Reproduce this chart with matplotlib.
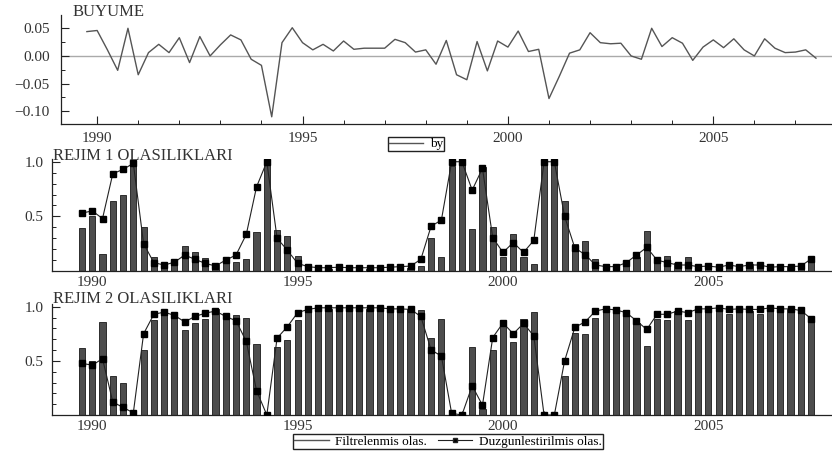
import numpy as np
import pandas as pd
import matplotlib
matplotlib.use("Agg")
import matplotlib.pyplot as plt
from matplotlib.lines import Line2D
from matplotlib.ticker import MultipleLocator, FixedLocator, FuncFormatter

# quarterly sample 1989Q4 - 2007Q3
quarters = pd.period_range("1989Q4", "2007Q3", freq="Q")
t = np.asarray(quarters.year + (quarters.quarter - 1) / 4.0)

by = [0.044, 0.046, 0.011, -0.026, 0.050, -0.034, 0.006, 0.021, 0.006, 0.033,
      -0.012, 0.035, 0.000, 0.020, 0.038, 0.029, -0.006, -0.017, -0.110, 0.024,
      0.051, 0.024, 0.011, 0.021, 0.009, 0.027, 0.012, 0.014, 0.014, 0.014,
      0.030, 0.024, 0.007, 0.011, -0.015, 0.028, -0.034, -0.043, 0.026, -0.027,
      0.027, 0.016, 0.045, 0.008, 0.012, -0.077, -0.037, 0.005, 0.011, 0.042,
      0.024, 0.022, 0.023, 0.000, -0.006, 0.050, 0.017, 0.033, 0.023, -0.008,
      0.016, 0.029, 0.015, 0.031, 0.011, 0.000, 0.031, 0.014, 0.006, 0.007,
      0.011, -0.004]

# rejim 1: filtrelenmis / duzgunlestirilmis
f1 = [0.39, 0.50, 0.155, 0.64, 0.70, 0.99, 0.405, 0.125, 0.076, 0.10,
      0.23, 0.17, 0.12, 0.064, 0.116, 0.085, 0.11, 0.354, 1.0, 0.375,
      0.32, 0.137, 0.025, 0.02, 0.02, 0.025, 0.02, 0.02, 0.02, 0.02,
      0.025, 0.025, 0.03, 0.05, 0.30, 0.125, 0.96, 1.0, 0.38, 0.95,
      0.405, 0.125, 0.34, 0.125, 0.06, 1.0, 1.0, 0.64, 0.25, 0.27,
      0.11, 0.055, 0.05, 0.07, 0.13, 0.37, 0.12, 0.137, 0.07, 0.125,
      0.055, 0.055, 0.04, 0.076, 0.05, 0.064, 0.076, 0.04, 0.045, 0.045,
      0.045, 0.11]
s1 = [0.53, 0.55, 0.48, 0.89, 0.93, 0.985, 0.25, 0.076, 0.055, 0.08,
      0.146, 0.107, 0.07, 0.046, 0.10, 0.146, 0.335, 0.77, 1.0, 0.30,
      0.19, 0.07, 0.04, 0.03, 0.03, 0.035, 0.03, 0.03, 0.03, 0.03,
      0.035, 0.04, 0.045, 0.107, 0.41, 0.466, 1.0, 1.0, 0.74, 0.94,
      0.305, 0.17, 0.26, 0.17, 0.28, 1.0, 1.0, 0.50, 0.21, 0.15,
      0.055, 0.04, 0.04, 0.076, 0.146, 0.216, 0.10, 0.076, 0.055, 0.055,
      0.04, 0.045, 0.035, 0.055, 0.04, 0.055, 0.055, 0.035, 0.04, 0.04,
      0.045, 0.11]

# rejim 2
f2 = [0.62, 0.50, 0.855, 0.36, 0.30, 0.015, 0.60, 0.877, 0.97, 0.94,
      0.785, 0.846, 0.89, 0.98, 0.93, 0.92, 0.90, 0.655, 0.0, 0.63,
      0.69, 0.877, 0.985, 0.975, 0.98, 0.98, 0.975, 0.98, 0.98, 0.98,
      0.975, 0.985, 0.98, 0.97, 0.715, 0.89, 0.03, 0.0, 0.63, 0.055,
      0.60, 0.846, 0.67, 0.886, 0.95, 0.0, 0.0, 0.36, 0.76, 0.745,
      0.90, 0.985, 0.98, 0.963, 0.846, 0.64, 0.89, 0.877, 0.963, 0.88,
      0.98, 0.98, 0.99, 0.93, 0.98, 0.96, 0.93, 0.99, 0.985, 0.98,
      0.98, 0.90]
s2 = [0.477, 0.46, 0.52, 0.12, 0.07, 0.02, 0.75, 0.93, 0.95, 0.92,
      0.86, 0.91, 0.94, 0.96, 0.91, 0.87, 0.68, 0.225, 0.0, 0.71,
      0.815, 0.945, 0.975, 0.99, 0.99, 0.99, 0.99, 0.99, 0.99, 0.99,
      0.98, 0.98, 0.975, 0.91, 0.60, 0.545, 0.015, 0.0, 0.27, 0.09,
      0.715, 0.85, 0.75, 0.846, 0.73, 0.0, 0.0, 0.50, 0.81, 0.86,
      0.96, 0.98, 0.97, 0.945, 0.87, 0.79, 0.93, 0.93, 0.96, 0.945,
      0.98, 0.98, 0.99, 0.975, 0.98, 0.975, 0.975, 0.99, 0.98, 0.98,
      0.965, 0.89]

year_ticks = [1990, 1995, 2000, 2005]
txt = "#333333"

plt.rcParams['font.family'] = ['Liberation Serif', 'DejaVu Serif']
plt.rcParams['axes.unicode_minus'] = True

W, H = 832, 455
fig = plt.figure(figsize=(W / 100, H / 100), dpi=100)


def box(l, t_, r, b):
    return [l / W, 1 - b / H, (r - l) / W, (b - t_) / H]


def style(ax, xpad):
    for s in ["top", "right"]:
        ax.spines[s].set_visible(False)
    for s in ["left", "bottom"]:
        ax.spines[s].set_linewidth(0.9)
        ax.spines[s].set_color("#222222")
    ax.xaxis.set_major_locator(FixedLocator(year_ticks))
    ax.xaxis.set_minor_locator(MultipleLocator(1))
    ax.tick_params(which="both", direction="in", colors="#222222",
                   labelcolor=txt, labelsize=11)
    ax.tick_params(which="major", length=6, width=0.8)
    ax.tick_params(which="minor", length=3, width=0.7)
    ax.tick_params(axis="x", pad=xpad)
    ax.patch.set_alpha(0)


# --- BUYUME
ax1 = fig.add_axes(box(61, 15, 832, 124))
ax1.axhline(0, color="#aaaaaa", lw=1.0, zorder=1)
ax1.plot(t, by, color="#555555", lw=1.0, zorder=3)
ax1.set_xlim(1989.12, 2007.89)
ax1.set_ylim(-0.123, 0.074)
style(ax1, 6)
ax1.yaxis.set_major_locator(FixedLocator([-0.10, -0.05, 0.0, 0.05]))
ax1.yaxis.set_minor_locator(MultipleLocator(0.025))
ax1.yaxis.set_major_formatter(FuncFormatter(lambda v, p: f"{v:.2f}".replace("-", "\u2212")))
ax1.tick_params(axis="y", pad=8)
fig.text(73 / W, 1 - 12 / H, "BUYUME", fontsize=12, color=txt, va="center", ha="left")
fig.legend([Line2D([], [], color="#555555", lw=1.0)], ["by"],
           loc="center", bbox_to_anchor=(416 / W, 1 - 144 / H), fontsize=9.5,
           frameon=True, fancybox=False, edgecolor="#222222", framealpha=1,
           handlelength=2.6, borderpad=0.1, handletextpad=0.5, borderaxespad=0)


def regime_panel(rect, filt, smooth, title, ty):
    ax = fig.add_axes(box(*rect))
    ax.bar(t, filt, width=0.15, color="#4d4d4d", edgecolor="#1a1a1a",
           linewidth=0.6, zorder=2)
    ax.plot(t, smooth, color="#222222", lw=0.8, marker="s", markersize=4,
            markerfacecolor="black", markeredgecolor="black", zorder=3)
    ax.set_xlim(1989.02, 2008.01)
    ax.set_ylim(0, 1.025)
    style(ax, 3.5)
    ax.set_axisbelow(True)
    ax.yaxis.set_major_locator(FixedLocator([0.5, 1.0]))
    ax.yaxis.set_minor_locator(MultipleLocator(0.1))
    ax.yaxis.set_major_formatter(FuncFormatter(lambda v, p: f"{v:.1f}"))
    ax.tick_params(axis="y", pad=6)
    fig.text(53 / W, 1 - ty / H, title, fontsize=12, color=txt, va="center", ha="left")
    return ax


ax2 = regime_panel((52, 159, 832, 271), f1, s1, "REJIM 1 OLASILIKLARI", 156)
ax3 = regime_panel((52, 304, 832, 415), f2, s2, "REJIM 2 OLASILIKLARI", 299)

handles = [Line2D([], [], color="#555555", lw=1.0),
           Line2D([], [], color="#222222", lw=0.8, marker="s", markersize=3.5,
                  markerfacecolor="black")]
fig.legend(handles, ["Filtrelenmis olas.", "Duzgunlestirilmis olas."],
           loc="center", bbox_to_anchor=(448 / W, 1 - 441.5 / H), ncol=2,
           fontsize=9.5, frameon=True, fancybox=False, edgecolor="#222222",
           framealpha=1, handlelength=2.6, borderpad=0.1, handletextpad=0.5,
           columnspacing=0.8, borderaxespad=0)

fig.savefig("out.png", dpi=100)
